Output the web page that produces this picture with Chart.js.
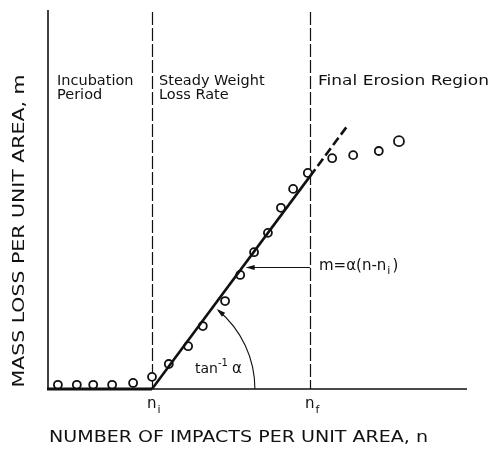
<!DOCTYPE html>
<html>
<head>
<meta charset="utf-8">
<script src="https://cdn.jsdelivr.net/npm/chart.js@4"></script>
<style>
  html, body { margin: 0; padding: 0; background: #fff; }
  #wrap { width: 491px; height: 451px; position: relative; }
</style>
</head>
<body>
<div id="wrap"><canvas id="erosionChart"></canvas></div>
<script>
// measured points (arbitrary units)
const impactsN = [2.6, 7.1, 11.0, 15.5, 20.5, 25.0, 29.0, 33.6, 37.1, 42.4, 46.0, 49.3, 52.6, 55.7, 58.6, 62.1, 67.9, 72.9, 79.0, 83.8];
const massLoss = [1.1, 1.1, 1.1, 1.1, 1.6, 3.2, 6.6, 11.3, 16.6, 23.2, 30.1, 36.1, 41.2, 47.8, 52.8, 57.0, 60.9, 61.7, 62.8, 65.4];

// idealised curve: flat incubation, steady slope, extrapolated (dashed) part
const fitN = [0, 25.0, 62.6, 71.7];
const fitM = [0, 0, 56.1, 69.7];

// region boundaries n_i, n_f
const boundaries = [25.0, 62.6];
const regionLabels = [['Incubation', 'Period'], ['Steady Weight', 'Loss Rate'], ['Final Erosion Region']];

const ink = '#111';

function pts(xs, ys) { return xs.map((x, i) => ({ x: x, y: ys[i] })); }

function fitText(ctx, text, x, y, width, size, align) {
  ctx.save();
  ctx.font = size + 'px "DejaVu Sans"';
  const w = ctx.measureText(text).width;
  ctx.translate(x, y);
  ctx.scale(width / w, 1);
  ctx.textAlign = 'left';
  ctx.textBaseline = 'middle';
  let off = 0;
  if (align === 'center') off = -w / 2;
  ctx.fillText(text, off, 0);
  ctx.restore();
}

const decorPlugin = {
  id: 'decor',
  beforeDatasetsDraw(chart) {
    const { ctx, chartArea: a, scales: { x, y } } = chart;
    ctx.save();
    ctx.strokeStyle = ink;
    // axes
    ctx.lineWidth = 1.6;
    ctx.beginPath();
    ctx.moveTo(a.left + 1, a.top);
    ctx.lineTo(a.left + 1, a.bottom);
    ctx.lineTo(a.right, a.bottom);
    ctx.stroke();
    // region boundaries
    ctx.lineWidth = 1.2;
    ctx.setLineDash([13, 3]);
    boundaries.forEach(b => {
      const px = Math.round(x.getPixelForValue(b)) + 0.5;
      ctx.beginPath();
      ctx.moveTo(px, a.top + 2);
      ctx.lineTo(px, a.bottom);
      ctx.stroke();
    });
    ctx.setLineDash([]);

    // angle arc tan^-1 alpha
    const cx = x.getPixelForValue(fitN[1]);
    const cy = y.getPixelForValue(fitM[1]);
    const ex = x.getPixelForValue(fitN[3]);
    const ey = y.getPixelForValue(fitM[3]);
    const theta = Math.atan2(cy - ey, ex - cx);
    const r = x.getPixelForValue(49.5) - cx;
    const endA = -theta + 0.06;
    ctx.lineWidth = 1.1;
    ctx.beginPath();
    ctx.arc(cx, cy, r, 0, endA, true);
    ctx.stroke();
    const tx = cx + r * Math.cos(endA), ty = cy + r * Math.sin(endA);
    const dx = r * Math.sin(endA), dy = -r * Math.cos(endA);
    const dl = Math.hypot(dx, dy);
    const ux = dx / dl, uy = dy / dl;
    ctx.fillStyle = ink;
    ctx.beginPath();
    ctx.moveTo(tx + ux * 2, ty + uy * 2);
    ctx.lineTo(tx - ux * 7 - uy * 2.5, ty - uy * 7 + ux * 2.5);
    ctx.lineTo(tx - ux * 7 + uy * 2.5, ty - uy * 7 - ux * 2.5);
    ctx.closePath();
    ctx.fill();

    // formula arrow
    const ay = Math.round(y.getPixelForValue(32.2)) + 0.5;
    const ax0 = x.getPixelForValue(boundaries[1]);
    const ax1 = x.getPixelForValue(47.3);
    ctx.beginPath();
    ctx.moveTo(ax0, ay);
    ctx.lineTo(ax1 + 6, ay);
    ctx.stroke();
    ctx.beginPath();
    ctx.moveTo(ax1, ay);
    ctx.lineTo(ax1 + 9, ay - 2.5);
    ctx.lineTo(ax1 + 9, ay + 2.5);
    ctx.closePath();
    ctx.fill();
    ctx.restore();
  },
  afterDraw(chart) {
    const { ctx, scales: { x, y } } = chart;
    ctx.save();
    ctx.fillStyle = ink;
    ctx.textBaseline = 'middle';
    ctx.textAlign = 'left';
    // region labels
    ctx.font = '14.5px "DejaVu Sans"';
    ctx.fillText(regionLabels[0][0], 57, 81);
    ctx.fillText(regionLabels[0][1], 57, 95);
    ctx.fillText(regionLabels[1][0], 159, 81);
    ctx.fillText(regionLabels[1][1], 159, 95);
    fitText(ctx, regionLabels[2][0], 318, 81, 171, 14.5);

    // formula
    const ay = y.getPixelForValue(32.2);
    ctx.font = '15px "DejaVu Sans"';
    let fx = 319;
    const head = 'm=α(n-n';
    ctx.fillText(head, fx, ay - 1);
    fx += ctx.measureText(head).width;
    ctx.font = '11px "DejaVu Sans"';
    ctx.fillText('i', fx + 1, ay + 4);
    fx += ctx.measureText('i').width + 3;
    ctx.font = '15px "DejaVu Sans"';
    ctx.fillText(')', fx, ay - 1);

    // tan^-1 alpha
    ctx.font = '14px "DejaVu Sans"';
    ctx.fillText('tan', 195, 369);
    let tw = ctx.measureText('tan').width;
    ctx.font = '10px "DejaVu Sans"';
    ctx.fillText('-1', 195 + tw, 363);
    tw += ctx.measureText('-1').width + 4;
    ctx.font = '15px "DejaVu Sans"';
    ctx.fillText('α', 195 + tw, 369);

    // n_i, n_f
    const lab = [['n', 'i'], ['n', 'f']];
    boundaries.forEach((b, i) => {
      const px = x.getPixelForValue(b);
      ctx.font = '15px "DejaVu Sans"';
      ctx.fillText(lab[i][0], px - 5, 404);
      const nw = ctx.measureText('n').width;
      ctx.font = '11px "DejaVu Sans"';
      ctx.fillText(lab[i][1], px - 5 + nw + 1, 410);
    });

    // axis titles
    fitText(ctx, 'NUMBER OF IMPACTS PER UNIT AREA, n', 49, 438, 379, 16);
    ctx.save();
    ctx.translate(20, 231);
    ctx.rotate(-Math.PI / 2);
    fitText(ctx, 'MASS LOSS PER UNIT AREA, m', 0, 0, 313, 16, 'center');
    ctx.restore();
    ctx.restore();
  }
};

new Chart(document.getElementById('erosionChart'), {
  type: 'scatter',
  data: {
    datasets: [
      {
        label: 'incubation',
        data: pts(fitN.slice(0, 2), fitM.slice(0, 2)),
        showLine: true, borderColor: ink, borderWidth: 2.8, pointRadius: 0, clip: false
      },
      {
        label: 'steady',
        data: pts(fitN.slice(1, 3), fitM.slice(1, 3)),
        showLine: true, borderColor: ink, borderWidth: 2.6, pointRadius: 0, clip: false
      },
      {
        label: 'extrapolated',
        data: pts(fitN.slice(2, 4), fitM.slice(2, 4)),
        showLine: true, borderColor: ink, borderWidth: 2.6, borderDash: [9, 4], pointRadius: 0, clip: false
      },
      {
        label: 'measured',
        data: pts(impactsN, massLoss),
        showLine: false,
        pointStyle: 'circle',
        pointRadius: impactsN.map((_, i) => i === impactsN.length - 1 ? 5 : 4),
        pointBackgroundColor: '#fff',
        pointBorderColor: ink,
        pointBorderWidth: 1.8,
        clip: false
      }
    ]
  },
  options: {
    responsive: true,
    maintainAspectRatio: false,
    animation: false,
    events: [],
    layout: { padding: { left: 47, right: 24, top: 10, bottom: 62 } },
    scales: {
      x: { type: 'linear', min: 0, max: 100, display: false },
      y: { type: 'linear', min: 0, max: 100, display: false }
    },
    plugins: {
      legend: { display: false },
      tooltip: { enabled: false }
    }
  },
  plugins: [decorPlugin]
});
</script>
</body>
</html>
